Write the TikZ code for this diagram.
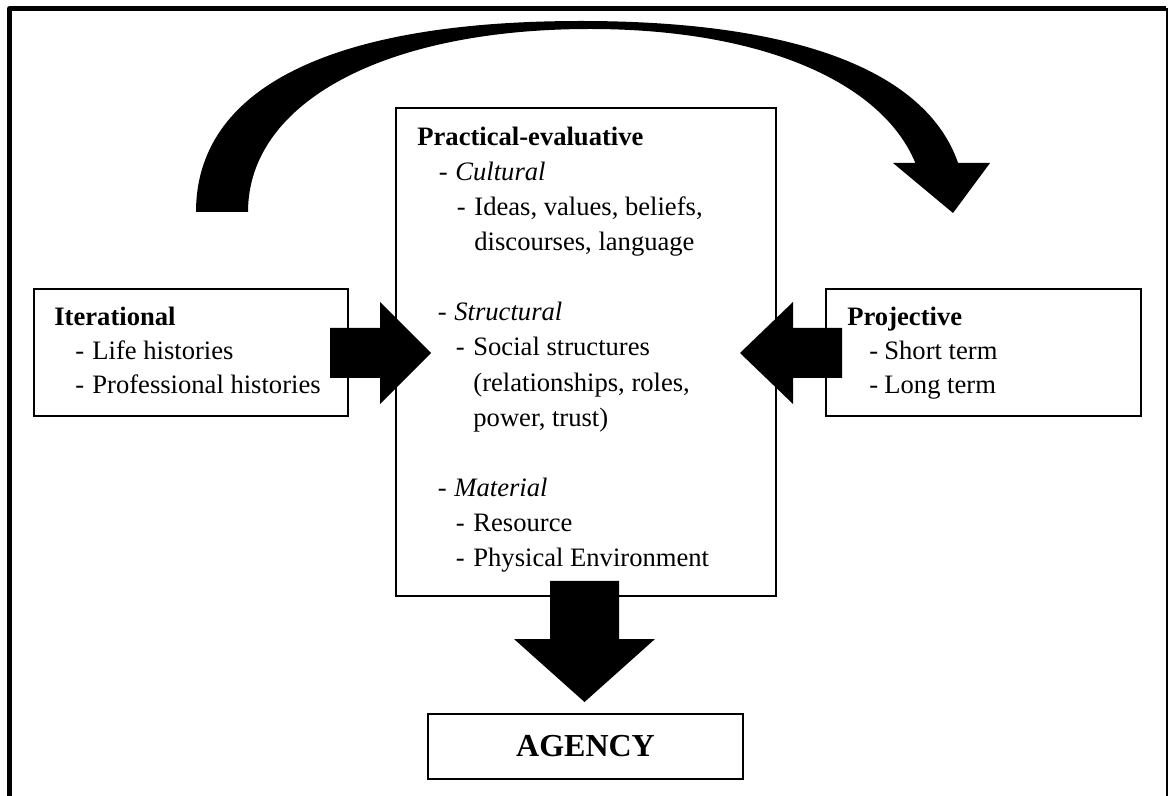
\documentclass[tikz,border=0pt]{standalone}
\usepackage{fontspec}
\setmainfont{Liberation Serif}
\newcommand{\dsh}[2]{\llap{-\hspace{#1}}#2}
\begin{document}
\begin{tikzpicture}[x=0.5pt,y=-0.5pt,
  box/.style={draw,line width=0.9pt,inner sep=0pt},
  txt/.style={anchor=base west,inner sep=0pt,font=\fontsize{13.3}{16}\selectfont},
  blockarrow/.style={fill=black,draw=none}]
\useasboundingbox (0,0) rectangle (1168,796);
% frame
\draw[line width=2.5pt,line join=round] (9.5,796) -- (9.5,8.5) -- (1166,8.5);
\draw[line width=1pt] (1167,8.5) -- (1167,796);
% boxes
\node[box,minimum width=157pt,minimum height=63.5pt] (iter) at (191,352.5) {};
\node[box,minimum width=157.5pt,minimum height=63.5pt] (proj) at (983.5,352.5) {};
\node[box,minimum width=190pt,minimum height=244pt] (prac) at (586,352) {};
\node[box,minimum width=157.5pt,minimum height=32.5pt,font=\fontsize{16}{18}\selectfont\bfseries] (agency) at (585.5,746.5) {AGENCY};
% texts: iterational
\node[txt,font=\fontsize{13.3}{16}\selectfont\bfseries] (i0) at (54,326) {Iterational};
\node[txt] (i1) at (92,359.5) {\dsh{4.1pt}{Life histories}};
\node[txt] (i2) at (92,393.5) {\dsh{4.1pt}{Professional histories}};
% projective
\node[txt,font=\fontsize{13.3}{16}\selectfont\bfseries] (r0) at (847,326) {Projective};
\node[txt] (r1) at (884,359.5) {\dsh{3.1pt}{Short term}};
\node[txt] (r2) at (884,393.5) {\dsh{3.1pt}{Long term}};
% practical-evaluative
\node[txt,font=\fontsize{13.3}{16}\selectfont\bfseries] (p0) at (417,146) {Practical-evaluative};
\node[txt] (p1) at (455,181) {\dsh{3.8pt}{\itshape Cultural}};
\node[txt] (p2) at (474,216) {\dsh{4.3pt}{Ideas, values, beliefs,}};
\node[txt] (p3) at (474,251) {discourses, language};
\node[txt] (p4) at (454,321) {\dsh{3.8pt}{\itshape Structural}};
\node[txt] (p5) at (473,356) {\dsh{4.3pt}{Social structures}};
\node[txt] (p6) at (473,391.5) {(relationships, roles,};
\node[txt] (p7) at (473,426.5) {power, trust)};
\node[txt] (p8) at (454,497) {\dsh{3.8pt}{\itshape Material}};
\node[txt] (p9) at (473,532) {\dsh{4.3pt}{Resource}};
\node[txt] (p10) at (473,567) {\dsh{4.3pt}{Physical Environment}};
% block arrows
\fill[blockarrow] (330,328) -- (380,328) -- (380,302) -- (431,353) -- (380,404) -- (380,378) -- (330,378) -- cycle;
\fill[blockarrow] (842,328) -- (793,328) -- (793,302) -- (740,353) -- (793,404) -- (793,378) -- (842,378) -- cycle;
\fill[blockarrow] (550,581) -- (619,581) -- (619,639) -- (655,639) -- (584.5,702) -- (514,639) -- (550,639) -- cycle;
% curved arrow
\fill[blockarrow] (196,212) .. controls (196,88) and (331,21) .. (581,21)
  .. controls (796,21) and (925.9,70.5) .. (958.1,163)
  -- (990,163) -- (953,213) -- (893,163) -- (915.4,163)
  .. controls (881.3,80.8) and (759.4,29) .. (590,29)
  .. controls (385,29) and (248,102) .. (248,212) -- cycle;
\end{tikzpicture}
\end{document}
